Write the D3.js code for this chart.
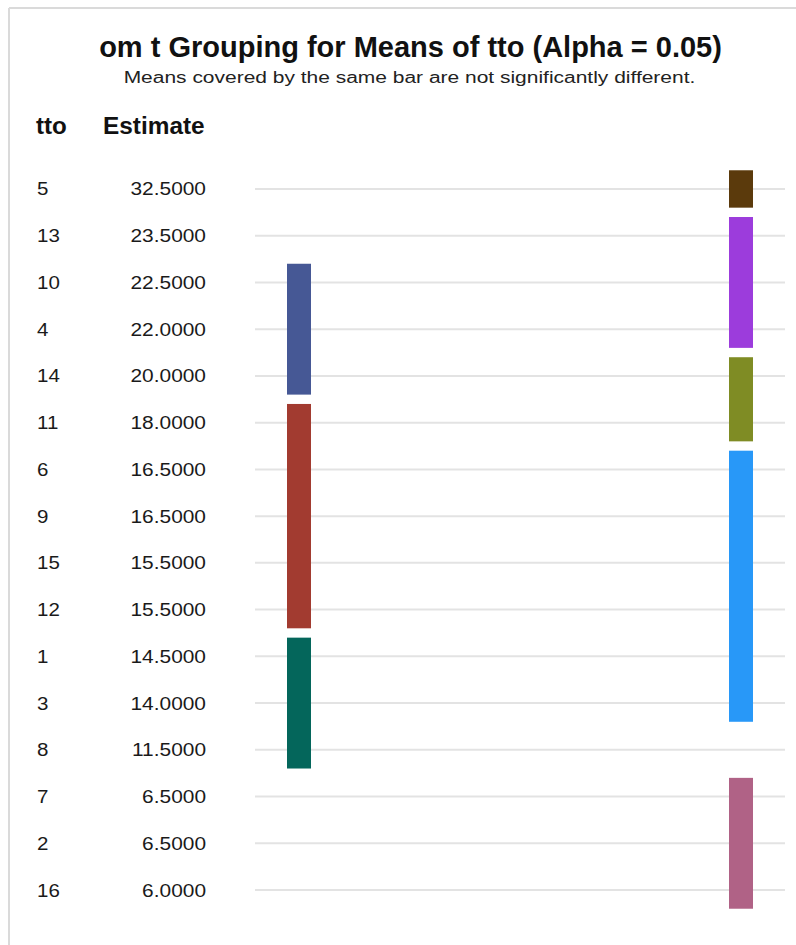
<!DOCTYPE html>
<html>
<head>
<meta charset="utf-8">
<script src="https://cdn.jsdelivr.net/npm/d3@7"></script>
<style>
  html, body { margin: 0; padding: 0; background: #fff; }
  svg { display: block; font-family: "Liberation Sans", Arial, sans-serif; }
</style>
</head>
<body>
<svg id="chart" width="796" height="945"></svg>
<script>
// Treatment levels, ordered by estimated mean (highest first)
const levels = ["5", "13", "10", "4", "14", "11", "6", "9", "15", "12", "1", "3", "8", "7", "2", "16"];
const estimates = [32.5, 23.5, 22.5, 22.0, 20.0, 18.0, 16.5, 16.5, 15.5, 15.5, 14.5, 14.0, 11.5, 6.5, 6.5, 6.0];

// Grouping bars: column slot, first and last level covered, fill colour
const groupColumn = [0, 0, 0, 1, 1, 1, 1, 1];
const groupStart  = ["10", "11", "1", "5", "13", "14", "6", "7"];
const groupEnd    = ["14", "12", "8", "5", "4", "11", "3", "16"];
const groupColor  = ["#465895", "#a23b30", "#04665b", "#5b3a0c", "#9c3cdc", "#7f8c24", "#2898f8", "#b06286"];

const svg = d3.select("#chart");
const W = 796, H = 945;

// Widen a text element horizontally by a factor
function stretch(sel, k) {
  sel.each(function () {
    const len = this.getComputedTextLength();
    d3.select(this).attr("textLength", len * k).attr("lengthAdjust", "spacingAndGlyphs");
  });
}

// Frame lines along the top and left edges
svg.append("line").attr("x1", 9).attr("x2", W).attr("y1", 8).attr("y2", 8)
  .attr("stroke", "#dadada").attr("stroke-width", 2);
svg.append("line").attr("x1", 9).attr("x2", 9).attr("y1", 8).attr("y2", H)
  .attr("stroke", "#dadada").attr("stroke-width", 2);

// Titles
svg.append("text").attr("x", 410.5).attr("y", 57).attr("text-anchor", "middle")
  .attr("font-size", 29).attr("font-weight", "bold").attr("fill", "#111")
  .text("om t Grouping for Means of tto (Alpha = 0.05)");
svg.append("text").attr("x", 409.5).attr("y", 83).attr("text-anchor", "middle")
  .attr("font-size", 16).attr("fill", "#222")
  .text("Means covered by the same bar are not significantly different.")
  .call(stretch, 1.31);

// Column headers
svg.append("text").attr("x", 36).attr("y", 134).attr("font-size", 23).attr("font-weight", "bold")
  .attr("fill", "#111").text("tto").call(stretch, 1.05);
svg.append("text").attr("x", 103).attr("y", 134).attr("font-size", 23).attr("font-weight", "bold")
  .attr("fill", "#111").text("Estimate").call(stretch, 1.06);

// Row scale
const y = d3.scaleBand().domain(levels).range([165.6, 913.4]);
const step = y.step();
const yc = d => y(d) + y.bandwidth() / 2;

// Horizontal extent of the grouping panel and the two bar columns
const x = d3.scaleBand().domain([0, 1]).range([255, 785]);
const barW = 24;
const barX = d3.scaleOrdinal().domain([0, 1]).range([287, 729]);

// Grid lines
svg.append("g").selectAll("line").data(levels).join("line")
  .attr("x1", x.range()[0]).attr("x2", x.range()[1])
  .attr("y1", d => yc(d)).attr("y2", d => yc(d))
  .attr("stroke", "#e3e3e3").attr("stroke-width", 2);

// Row labels
const fmt = d3.format(".4f");
svg.append("g").selectAll("text").data(levels).join("text")
  .attr("x", 37).attr("y", d => yc(d)).attr("dy", "0.36em")
  .attr("font-size", 18).attr("fill", "#1a1a1a").text(d => d)
  .call(stretch, 1.14);
svg.append("g").selectAll("text").data(estimates).join("text")
  .attr("x", 206).attr("y", (d, i) => yc(levels[i])).attr("dy", "0.36em")
  .attr("text-anchor", "end").attr("font-size", 18).attr("fill", "#1a1a1a").text(d => fmt(d))
  .call(stretch, 1.16);

// Grouping bars
const groups = groupStart.map((s, i) => ({ col: groupColumn[i], s, e: groupEnd[i], color: groupColor[i] }));
svg.append("g").selectAll("rect").data(groups).join("rect")
  .attr("x", d => barX(d.col))
  .attr("width", barW)
  .attr("y", d => yc(d.s) - step * 0.4)
  .attr("height", d => yc(d.e) - yc(d.s) + step * 0.8)
  .attr("fill", d => d.color);
</script>
</body>
</html>
